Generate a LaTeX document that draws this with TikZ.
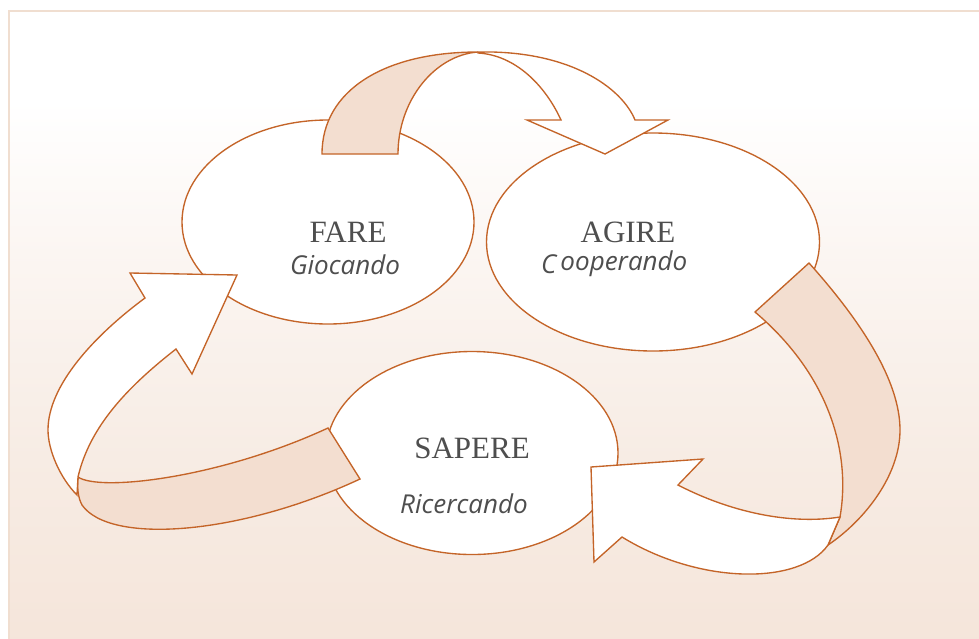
\documentclass[tikz,border=0pt]{standalone}
\usepackage{fontspec}
\usetikzlibrary{shapes.geometric}
\newfontfamily\serifX{Liberation Serif}
\newfontfamily\sansX{Open Sans}
\definecolor{lineC}{RGB}{196,100,40}
\definecolor{tailC}{RGB}{243,222,208}
\definecolor{bgB}{RGB}{245,229,218}
\definecolor{bgM}{RGB}{247,236,228}
\definecolor{bgL}{RGB}{251,245,241}
\definecolor{bgEdge}{RGB}{240,222,208}
\definecolor{txtC}{RGB}{78,78,78}
\pgfdeclareverticalshading{bgshade}{100bp}{color(0bp)=(bgB); color(25bp)=(bgB); color(40bp)=(bgM); color(55bp)=(bgL); color(68bp)=(white); color(100bp)=(white)}
\tikzset{
  bubble/.style={ellipse, draw=lineC, line width=1.35pt, fill=white, inner sep=0pt},
  tail/.style={draw=lineC, line width=1.35pt, fill=tailC, line join=miter},
  front/.style={draw=lineC, line width=1.35pt, fill=white, line join=miter},
  title/.style={font=\serifX\fontsize{31}{34}\selectfont, text=txtC, inner sep=0pt},
  sub/.style={font=\sansX\itshape\fontsize{26}{30}\selectfont, text=txtC, inner sep=0pt}
}
\begin{document}
\begin{tikzpicture}[x=1pt, y=-1pt]
\useasboundingbox (0,0) rectangle (979,638);
% background panel
\shade[shading=bgshade] (9,11) rectangle (990,650);
\draw[bgEdge, line width=2pt] (990,11) -- (9,11) -- (9,650);
% bubbles
\node[bubble, minimum width=292pt, minimum height=204pt] (fare) at (328,222) {};
\node[bubble, minimum width=333pt, minimum height=218pt] (agire) at (653,242) {};
\node[bubble, minimum width=292pt, minimum height=203pt] (sapere) at (472,453) {};
% top arrow: FARE -> AGIRE
\path[tail] (322,154) .. controls (322,90) and (385,52) .. (478,52)
  .. controls (435,55) and (398,100) .. (398,154) -- cycle;
\path[front] (478,52) .. controls (570,50) and (622,88) .. (635,120)
  -- (668,120) -- (605,154) -- (527,120) -- (561,120)
  .. controls (545,85) and (515,55) .. (478,53) -- cycle;
% right arrow: AGIRE -> SAPERE
\path[tail] (809,263) .. controls (860,320) and (900,380) .. (900,430)
  .. controls (900,475) and (865,520) .. (828,545) -- (840,517)
  .. controls (850,460) and (835,380) .. (755,312) -- cycle;
\path[front] (591,467) -- (703,459) -- (678,485)
  .. controls (730,512) and (790,525) .. (840,517) -- (828,545)
  .. controls (800,585) and (700,585) .. (622,537) -- (594,562) -- cycle;
% left arrow: SAPERE -> FARE
\path[tail] (78,477) .. controls (100,492) and (220,478) .. (328,428)
  -- (360,479) .. controls (240,535) and (110,545) .. (82,505)
  .. controls (78,498) and (77,487) .. (78,477) -- cycle;
\path[front] (145,298) .. controls (95,335) and (48,385) .. (48,430)
  .. controls (48,450) and (60,478) .. (77,495) -- (78,477)
  .. controls (90,425) and (130,385) .. (176,349)
  -- (192,374) -- (237,275) -- (130,273) -- cycle;
% labels
\node[title, anchor=base] (tfare) at (348,242) {FARE};
\node[sub, anchor=base] (sfare) at (345,274) {Giocando};
\node[title, anchor=base] (tagire) at (628,242) {AGIRE};
\node[sub, anchor=base west] (sagire) at (541,270) {\raisebox{-3pt}{C}\hspace{4pt}ooperando};
\node[title, anchor=base] (tsapere) at (472,458) {SAPERE};
\node[sub, anchor=base] (ssapere) at (464,513) {Ricercando};
\end{tikzpicture}
\end{document}
